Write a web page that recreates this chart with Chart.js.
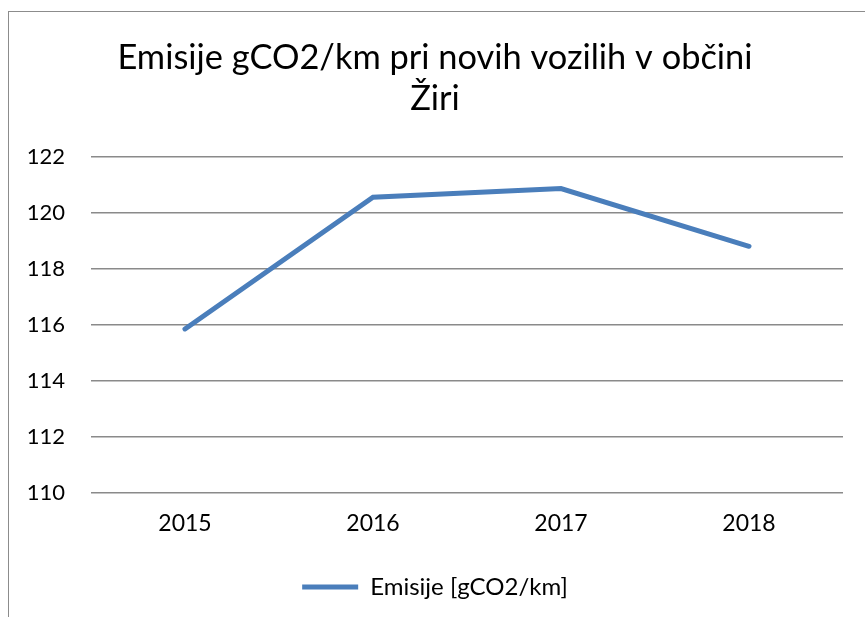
<!DOCTYPE html>
<html lang="sl">
<head>
    <meta charset="UTF-8">
    <title>Emisije gCO2/km</title>
    <script src="https://cdn.jsdelivr.net/npm/chart.js@4"></script>
    <style>
        html, body {
            margin: 0;
            padding: 0;
            background: #fff;
            overflow: hidden;
        }
        #wrap {
            position: relative;
            width: 865px;
            height: 617px;
        }
        #okvir {
            position: absolute;
            left: 8px;
            top: 11px;
            width: 900px;
            height: 700px;
            border: 1px solid #8c8c8c;
            box-sizing: border-box;
        }
        canvas {
            position: absolute;
            left: 0;
            top: 0;
        }
    </style>
</head>
<body>
    <div id="wrap">
        <div id="okvir"></div>
        <canvas id="graf" width="865" height="617"></canvas>
    </div>

    <script>
        // podatki
        const leta = ['2015', '2016', '2017', '2018'];
        const emisije = [115.85, 120.55, 120.86, 118.80];
        const oznakaSerije = 'Emisije [gCO2/km]';
        const naslov = ['Emisije gCO2/km pri novih vozilih v občini', 'Žiri'];

        const pisava = 'Lato, "Noto Sans", sans-serif';
        const modra = '#4a7ebb';
        const siva = '#8a8a8a';

        new Chart(document.getElementById('graf'), {
            type: 'line',
            data: {
                labels: leta,
                datasets: [{
                    label: oznakaSerije,
                    data: emisije,
                    borderColor: modra,
                    backgroundColor: modra,
                    borderWidth: 5,
                    borderCapStyle: 'round',
                    pointRadius: 0,
                    pointHoverRadius: 0,
                    tension: 0,
                    fill: false
                }]
            },
            options: {
                responsive: false,
                animation: false,
                devicePixelRatio: 1,
                layout: {
                    padding: { left: 27, right: 22, top: 37, bottom: 8 }
                },
                plugins: {
                    title: {
                        display: true,
                        text: naslov,
                        color: '#000',
                        font: { family: pisava, size: 34.4, weight: 'normal', lineHeight: 1.2 },
                        padding: { top: 0, bottom: 37 }
                    },
                    legend: {
                        display: true,
                        position: 'bottom',
                        labels: {
                            usePointStyle: true,
                            pointStyle: 'line',
                            pointStyleWidth: 56,
                            color: '#000',
                            font: { family: pisava, size: 24 },
                            padding: 14
                        }
                    },
                    tooltip: { enabled: false }
                },
                scales: {
                    x: {
                        offset: true,
                        grid: { display: false },
                        border: { display: false },
                        ticks: {
                            color: '#000',
                            font: { family: pisava, size: 23 },
                            padding: 9
                        },
                        afterFit: function (axis) { axis.height = 68; }
                    },
                    y: {
                        min: 110,
                        max: 122,
                        border: { display: false },
                        grid: {
                            color: siva,
                            lineWidth: 1.5,
                            drawTicks: false
                        },
                        ticks: {
                            stepSize: 2,
                            color: '#000',
                            font: { family: pisava, size: 22 },
                            padding: 26
                        },
                        afterFit: function (axis) { axis.width = 64; }
                    }
                }
            }
        });
    </script>
</body>
</html>
